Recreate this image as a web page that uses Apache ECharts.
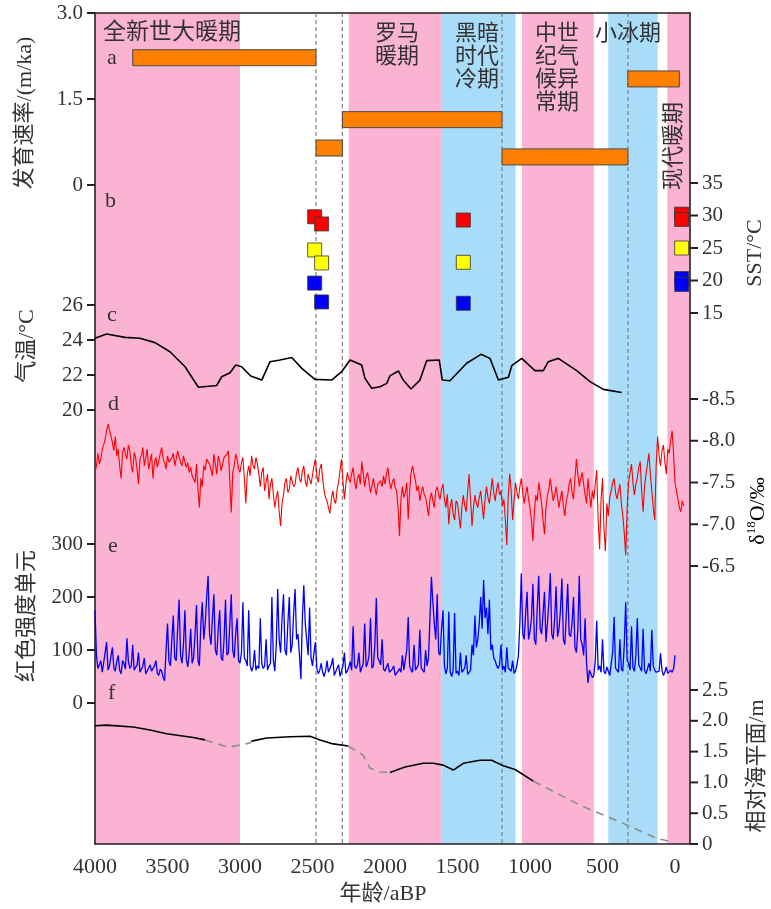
<!DOCTYPE html>
<html>
<head>
<meta charset="utf-8">
<script src="https://cdn.jsdelivr.net/npm/echarts@6/dist/echarts.min.js"></script>
<style>
  html, body { margin: 0; padding: 0; background: #fff; }
  #chart { width: 771px; height: 909px; }
</style>
</head>
<body>
<div id="chart"></div>
<script>
// 横轴（年龄 aBP）
const xTicks = [4000, 3500, 3000, 2500, 2000, 1500, 1000, 500, 0];
const X_MIN = -103.4;

// 各分图纵轴刻度
const rateTicks = [0, 1.5, 3];
const sstTicks = [15, 20, 25, 30, 35];
const tempTicks = [20, 22, 24, 26];
const d18OTicks = [-8.5, -8, -7.5, -7, -6.5];
const rednessTicks = [0, 100, 200, 300];
const seaTicks = [0, 0.5, 1, 1.5, 2, 2.5];

// 气候期背景色带 [起, 止, 类型]
const periodBands = [
  [4000, 3000, 'warm'], [2250, 1610, 'warm'], [1610, 1100, 'cold'],
  [1055, 560, 'warm'], [460, 120, 'cold'], [53, X_MIN, 'warm'],
];
// 虚线分界
const boundaryAges = [2476, 2294, 1193, 325];

// a 发育速率 [起, 止, 速率]
const growthRate = [
  [3740, 2476, 2.22], [2476, 2294, 0.645], [2294, 1193, 1.14],
  [1193, 325, 0.49], [325, -30, 1.85],
];

// b SST
const sstRed = [[2485, 29.8], [2437, 28.7], [1460, 29.3], [-46, 30.2], [-46, 29.4]];
const sstYellow = [[2485, 24.7], [2437, 22.7], [1460, 22.8], [-46, 25.0]];
const sstBlue = [[2485, 19.6], [2437, 16.7], [1460, 16.5], [-46, 20.3], [-46, 19.4]];

// c 气温
const airTemp = [
  [4000, 24.1], [3920, 24.34], [3793, 24.15], [3690, 24.1], [3586, 23.85], [3483, 23.33],
  [3379, 22.47], [3287, 21.3], [3161, 21.4], [3126, 21.9], [3069, 22.13], [3030, 22.57],
  [2989, 22.47], [2926, 21.94], [2850, 21.71], [2793, 22.76], [2724, 22.86], [2643, 23.0],
  [2574, 22.38], [2483, 21.75], [2368, 21.71], [2299, 22.19], [2241, 22.86], [2161, 22.57],
  [2138, 21.81], [2092, 21.24], [2034, 21.33], [1988, 21.52], [1966, 21.95], [1908, 22.23],
  [1874, 21.71], [1821, 21.2], [1759, 21.71], [1713, 22.82], [1626, 22.86], [1605, 21.71],
  [1552, 21.67], [1437, 22.67], [1338, 23.18], [1276, 22.95], [1218, 21.71], [1149, 21.87],
  [1126, 22.53], [1057, 22.95], [966, 22.25], [908, 22.25], [874, 22.76], [805, 22.95],
  [678, 22.25], [586, 21.62], [494, 21.18], [368, 21.0],
];

// d / e 的取样年龄（每行 200 年）
const sampleAges = [
  4000, 3990, 3980, 3970, 3960, 3950, 3940, 3930, 3920, 3910, 3900, 3890, 3880, 3870, 3860, 3850, 3840, 3830, 3820, 3810,
  3800, 3790, 3780, 3770, 3760, 3750, 3740, 3730, 3720, 3710, 3700, 3690, 3680, 3670, 3660, 3650, 3640, 3630, 3620, 3610,
  3600, 3590, 3580, 3570, 3560, 3550, 3540, 3530, 3520, 3510, 3500, 3490, 3480, 3470, 3460, 3450, 3440, 3430, 3420, 3410,
  3400, 3390, 3380, 3370, 3360, 3350, 3340, 3330, 3320, 3310, 3300, 3290, 3280, 3270, 3260, 3250, 3240, 3230, 3220, 3210,
  3200, 3190, 3180, 3170, 3160, 3150, 3140, 3130, 3120, 3110, 3100, 3090, 3080, 3070, 3060, 3050, 3040, 3030, 3020, 3010,
  3000, 2990, 2980, 2970, 2960, 2950, 2940, 2930, 2920, 2910, 2900, 2890, 2880, 2870, 2860, 2850, 2840, 2830, 2820, 2810,
  2800, 2790, 2780, 2770, 2760, 2750, 2740, 2730, 2720, 2710, 2700, 2690, 2680, 2670, 2660, 2650, 2640, 2630, 2620, 2610,
  2600, 2590, 2580, 2570, 2560, 2550, 2540, 2530, 2520, 2510, 2500, 2490, 2480, 2470, 2460, 2450, 2440, 2430, 2420, 2410,
  2400, 2390, 2380, 2370, 2360, 2350, 2340, 2330, 2320, 2310, 2300, 2290, 2280, 2270, 2260, 2250, 2240, 2230, 2220, 2210,
  2200, 2190, 2180, 2170, 2160, 2150, 2140, 2130, 2120, 2110, 2100, 2090, 2080, 2070, 2060, 2050, 2040, 2030, 2020, 2010,
  2000, 1990, 1980, 1970, 1960, 1950, 1940, 1930, 1920, 1910, 1900, 1890, 1880, 1870, 1860, 1850, 1840, 1830, 1820, 1810,
  1800, 1790, 1780, 1770, 1760, 1750, 1740, 1730, 1720, 1710, 1700, 1690, 1680, 1670, 1660, 1650, 1640, 1630, 1620, 1610,
  1600, 1590, 1580, 1570, 1560, 1550, 1540, 1530, 1520, 1510, 1500, 1490, 1480, 1470, 1460, 1450, 1440, 1430, 1420, 1410,
  1400, 1390, 1380, 1370, 1360, 1350, 1340, 1330, 1320, 1310, 1300, 1290, 1280, 1270, 1260, 1250, 1240, 1230, 1220, 1210,
  1200, 1190, 1180, 1170, 1160, 1150, 1140, 1130, 1120, 1110, 1100, 1090, 1080, 1070, 1060, 1050, 1040, 1030, 1020, 1010,
  1000, 990, 980, 970, 960, 950, 940, 930, 920, 910, 900, 890, 880, 870, 860, 850, 840, 830, 820, 810,
  800, 790, 780, 770, 760, 750, 740, 730, 720, 710, 700, 690, 680, 670, 660, 650, 640, 630, 620, 610,
  600, 590, 580, 570, 560, 550, 540, 530, 520, 510, 500, 490, 480, 470, 460, 450, 440, 430, 420, 410,
  400, 390, 380, 370, 360, 350, 340, 330, 320, 310, 300, 290, 280, 270, 260, 250, 240, 230, 220, 210,
  200, 190, 180, 170, 160, 150, 140, 130, 120, 110, 100, 90, 80, 70, 60, 50, 40, 30, 20, 10,
  0, -10, -20, -30, -40, -50, -60,
];

// d δ18O (‰)
const d18O = [
  -7.62, -7.70, -7.85, -7.72, -7.78, -7.90, -7.95, -8.02, -8.12, -8.20, -8.18, -8.06, -7.98, -7.88, -8.05, -7.82, -7.90, -7.70, -7.55, -7.86,
  -7.92, -7.84, -7.78, -7.95, -7.88, -7.70, -7.62, -7.86, -7.80, -7.66, -7.48, -7.78, -7.82, -7.92, -7.70, -7.80, -7.90, -7.66, -7.75, -7.84,
  -7.55, -7.74, -7.80, -7.68, -7.70, -7.85, -7.92, -7.78, -7.74, -7.66, -7.82, -7.74, -7.72, -7.80, -7.85, -7.70, -7.78, -7.88, -7.86, -7.74,
  -7.70, -7.82, -7.80, -7.68, -7.74, -7.62, -7.68, -7.58, -7.60, -7.50, -7.72, -7.42, -7.20, -7.55, -7.45, -7.70, -7.65, -7.78, -7.80, -7.72,
  -7.70, -7.58, -7.84, -7.72, -7.60, -7.82, -7.75, -7.64, -7.66, -7.80, -7.78, -7.84, -7.88, -7.50, -7.14, -7.62, -7.70, -7.84, -7.78, -7.66,
  -7.62, -7.74, -7.80, -7.55, -7.25, -7.60, -7.70, -7.58, -7.82, -7.70, -7.66, -7.80, -7.72, -7.60, -7.45, -7.62, -7.68, -7.40, -7.50, -7.60,
  -7.30, -7.48, -7.55, -7.36, -7.20, -7.32, -7.40, -7.15, -6.98, -7.25, -7.35, -7.50, -7.55, -7.38, -7.42, -7.58, -7.60, -7.45, -7.48, -7.62,
  -7.68, -7.55, -7.50, -7.64, -7.70, -7.52, -7.45, -7.60, -7.62, -7.48, -7.50, -7.70, -7.78, -7.58, -7.50, -7.66, -7.72, -7.55, -7.40, -7.32,
  -7.28, -7.20, -7.13, -7.30, -7.40, -7.28, -7.25, -7.42, -7.50, -7.65, -7.78, -7.52, -7.30, -7.48, -7.62, -7.55, -7.50, -7.60, -7.68, -7.52,
  -7.42, -7.55, -7.60, -7.48, -7.75, -7.60, -7.45, -7.58, -7.62, -7.50, -7.38, -7.46, -7.55, -7.44, -7.35, -7.48, -7.50, -7.52, -7.45, -7.58,
  -7.48, -7.60, -7.68, -7.52, -7.42, -7.50, -7.55, -7.44, -7.40, -7.20, -6.86, -7.30, -7.45, -7.32, -7.38, -7.50, -7.06, -7.40, -7.62, -7.70,
  -7.60, -7.52, -7.40, -7.46, -7.28, -7.38, -7.45, -7.36, -7.32, -7.22, -7.10, -7.30, -7.38, -7.28, -7.20, -7.40, -7.45, -7.35, -7.30, -7.42,
  -7.48, -7.30, -7.20, -7.36, -7.00, -7.22, -7.30, -7.12, -7.05, -7.28, -7.25, -7.10, -6.95, -7.20, -7.35, -7.22, -7.15, -7.40, -7.60, -7.30,
  -6.98, -7.20, -7.35, -7.25, -7.20, -7.32, -7.40, -7.22, -7.06, -7.30, -7.45, -7.32, -7.25, -7.40, -7.55, -7.38, -7.28, -7.42, -7.50, -7.35,
  -7.40, -7.22, -7.30, -7.05, -6.75, -7.35, -7.60, -7.40, -7.05, -7.28, -7.50, -7.38, -7.30, -7.45, -7.55, -7.38, -7.25, -7.36, -7.45, -7.30,
  -7.20, -7.05, -6.80, -7.15, -7.35, -7.28, -7.50, -7.38, -7.25, -7.05, -6.88, -7.20, -7.35, -7.42, -7.55, -7.40, -7.28, -7.35, -7.45, -7.32,
  -7.20, -7.32, -7.40, -7.22, -7.10, -7.28, -7.35, -7.48, -7.55, -7.38, -7.30, -7.55, -7.78, -7.60, -7.45, -7.55, -7.62, -7.48, -7.35, -7.25,
  -7.55, -7.35, -7.20, -7.40, -7.30, -7.48, -7.65, -7.05, -6.70, -7.30, -7.55, -6.95, -6.68, -7.25, -7.10, -7.32, -7.40, -7.50, -7.55, -7.38,
  -7.30, -7.40, -7.48, -7.25, -7.10, -6.90, -6.63, -7.20, -7.50, -7.62, -7.72, -7.50, -7.35, -7.48, -7.55, -7.68, -7.75, -7.40, -7.15, -7.45,
  -7.60, -7.72, -7.85, -7.60, -7.40, -7.20, -7.05, -7.70, -8.05, -7.82, -7.70, -7.88, -7.95, -7.75, -7.60, -7.90, -7.85, -8.00, -8.12, -7.85,
  -7.50, -7.40, -7.30, -7.20, -7.15, -7.28, -7.22,
];

// e 红色强度单元
const redness = [
  175, 90, 65, 72, 80, 58, 60, 95, 115, 62, 70, 88, 105, 66, 60, 78, 90, 62, 55, 80,
  75, 64, 122, 80, 65, 70, 110, 62, 60, 72, 95, 58, 58, 70, 85, 55, 55, 66, 72, 60,
  62, 70, 80, 56, 52, 64, 60, 48, 42, 100, 150, 78, 70, 120, 165, 85, 80, 140, 195, 90,
  75, 110, 175, 82, 68, 95, 140, 75, 85, 130, 185, 80, 70, 150, 190, 120, 150, 200, 240, 130,
  110, 160, 205, 100, 90, 140, 175, 85, 80, 120, 195, 90, 95, 150, 205, 100, 85, 130, 160, 80,
  75, 95, 190, 85, 80, 70, 175, 72, 60, 68, 100, 62, 70, 65, 160, 75, 65, 70, 120, 62,
  70, 75, 200, 80, 60, 110, 215, 120, 95, 160, 205, 100, 90, 150, 200, 95, 110, 170, 215, 120,
  130, 90, 45, 160, 222, 150, 120, 90, 180, 85, 70, 95, 115, 65, 55, 62, 75, 58, 50, 60,
  80, 58, 60, 72, 85, 52, 55, 66, 72, 50, 48, 70, 95, 56, 60, 68, 78, 62, 145, 70,
  65, 72, 95, 58, 60, 75, 150, 68, 75, 90, 160, 66, 70, 110, 198, 85, 80, 72, 120, 64,
  60, 68, 75, 58, 55, 64, 70, 52, 50, 60, 65, 58, 90, 62, 60, 100, 162, 70, 62, 58,
  110, 62, 60, 72, 138, 66, 65, 58, 100, 70, 85, 160, 238, 190, 150, 120, 205, 95, 90, 140,
  175, 70, 55, 65, 172, 58, 50, 62, 170, 56, 60, 52, 95, 58, 60, 66, 90, 54, 55, 62,
  110, 90, 165, 105, 120, 150, 200, 140, 232, 160, 180, 130, 195, 100, 110, 85, 80, 70, 65, 72,
  110, 62, 70, 58, 105, 66, 65, 60, 80, 56, 60, 72, 90, 150, 245, 130, 120, 170, 210, 120,
  135, 160, 225, 120, 110, 180, 240, 140, 130, 170, 210, 115, 150, 190, 245, 130, 120, 160, 220, 125,
  140, 175, 235, 120, 110, 165, 225, 130, 125, 150, 200, 105, 95, 140, 240, 120, 110, 90, 160, 75,
  38, 62, 60, 48, 52, 80, 155, 62, 70, 58, 120, 60, 55, 68, 70, 52, 50, 95, 162, 66,
  65, 58, 120, 64, 60, 110, 190, 80, 75, 62, 145, 66, 60, 90, 160, 72, 70, 60, 140, 62,
  55, 64, 75, 60, 138, 70, 62, 58, 55, 60, 94, 62, 52, 58, 68, 56, 55, 62, 58, 64,
  90, null, null, null, null, null, null,
];

// f 相对海平面（实线段 / 虚线段）
const seaLevelSolid = [
  [[4000, 1.92], [3920, 1.93], [3736, 1.90], [3621, 1.85], [3506, 1.79], [3322, 1.73], [3241, 1.69]],
  [[2920, 1.67], [2816, 1.72], [2655, 1.74], [2517, 1.75], [2448, 1.69], [2368, 1.63], [2253, 1.59]],
  [[1966, 1.16], [1862, 1.25], [1736, 1.31], [1667, 1.31], [1598, 1.28], [1529, 1.20], [1460, 1.31],
   [1345, 1.36], [1264, 1.36], [1195, 1.28], [1103, 1.21], [977, 1.02]],
];
const seaLevelDashed = [
  [[3241, 1.69], [3080, 1.57], [2931, 1.64], [2920, 1.67]],
  [[2253, 1.59], [2150, 1.44], [2103, 1.23], [2034, 1.17], [1966, 1.16]],
  [[977, 1.02], [655, 0.63], [333, 0.31], [126, 0.09], [12, 0.03]],
];

const FONT = "'Liberation Serif','Noto Sans CJK SC',serif";
const TXT = '#333';
const BAND_COLOR = { warm: '#FAB3D3', cold: '#A9DCF8' };

const L = 95, R = 771 - 690;
// 各分图网格（上边界, 高度）
const panels = [
  { top: 13, height: 831 },   // 0 外框 + 背景
  { top: 13, height: 172 },   // 1 a
  { top: 183, height: 130 },  // 2 b
  { top: 305, height: 105 },  // 3 c
  { top: 399, height: 167 },  // 4 d
  { top: 544, height: 159 },  // 5 e
  { top: 690, height: 154 },  // 6 f
];

const fmt1 = (v) => (v === 0 ? '0' : v.toFixed(1));

// 纵轴配置（刻度短线另行绘制）
const axisDefs = [
  { grid: 1, side: 'left', min: 0, max: 3, step: 1.5, ticks: rateTicks, fmt: fmt1 },
  { grid: 2, side: 'right', min: 15, max: 35, step: 5, ticks: sstTicks },
  { grid: 3, side: 'left', min: 20, max: 26, step: 2, ticks: tempTicks },
  { grid: 4, side: 'right', min: -8.5, max: -6.5, step: 0.5, ticks: d18OTicks, fmt: (v) => v.toFixed(1), inverse: true },
  { grid: 5, side: 'left', min: 0, max: 300, step: 100, ticks: rednessTicks },
  { grid: 6, side: 'right', min: 0, max: 2.5, step: 0.5, ticks: seaTicks, fmt: fmt1 },
];

function panelY(d) {
  return {
    gridIndex: d.grid, type: 'value', position: d.side, min: d.min, max: d.max,
    interval: d.step, inverse: !!d.inverse,
    axisLine: { show: false, onZero: false },
    axisTick: { show: false },
    axisLabel: { margin: 12, fontSize: 21, color: TXT, fontFamily: FONT, formatter: d.fmt },
    splitLine: { show: false },
  };
}

function txt(text, x, y, size) {
  return {
    type: 'text', x, y, z: 100,
    style: {
      text, fill: TXT, font: size + 'px ' + FONT,
      align: 'left', textAlign: 'left',
      verticalAlign: 'middle', textVerticalAlign: 'middle',
    },
  };
}

function vtxt(text, x, y, size) {
  return {
    type: 'text', x, y, rotation: Math.PI / 2, z: 100,
    style: {
      text, fill: TXT, font: size + 'px ' + FONT,
      align: 'center', textAlign: 'center',
      verticalAlign: 'middle', textVerticalAlign: 'middle',
    },
  };
}

function multi(text, x, top, size) {
  return {
    type: 'text', x, y: top, z: 100,
    style: {
      text, fill: TXT, font: size + 'px ' + FONT, lineHeight: 23,
      align: 'left', textAlign: 'left',
      verticalAlign: 'top', textVerticalAlign: 'top',
    },
  };
}

const chart = echarts.init(document.getElementById('chart'));

const grids = panels.map((p) => ({ left: L, right: R, top: p.top, height: p.height }));

const xAxes = panels.map((p, i) => ({
  gridIndex: i, type: 'value', min: X_MIN, max: 4000, inverse: true, show: i === 0,
  position: 'bottom',
  axisLine: { onZero: false, lineStyle: { color: '#222', width: 1.6 } },
  axisTick: { show: false },
  axisLabel: {
    customValues: xTicks, margin: 12, fontSize: 22, color: TXT, fontFamily: FONT,
    formatter: (v) => String(v),
  },
  splitLine: { show: false },
}));
// 顶边框
xAxes.push({
  gridIndex: 0, type: 'value', min: X_MIN, max: 4000, inverse: true, position: 'top',
  axisLine: { onZero: false, lineStyle: { color: '#222', width: 1.6 } },
  axisTick: { show: false }, axisLabel: { show: false }, splitLine: { show: false },
});

const frameY = (pos) => ({
  gridIndex: 0, type: 'value', min: 0, max: 1, position: pos,
  axisLine: { show: true, onZero: false, lineStyle: { color: '#222', width: 1.6 } },
  axisTick: { show: false }, axisLabel: { show: false }, splitLine: { show: false },
});

const yAxes = [frameY('left'), frameY('right')].concat(axisDefs.map(panelY));

const series = [
  {
    type: 'custom', xAxisIndex: 0, yAxisIndex: 0, z: 0, silent: true,
    data: periodBands,
    renderItem: (params, api) => {
      const p1 = api.coord([api.value(0), 1]);
      const p2 = api.coord([api.value(1), 0]);
      const kind = periodBands[params.dataIndex][2];
      return {
        type: 'rect',
        shape: { x: p1[0], y: p1[1], width: p2[0] - p1[0], height: p2[1] - p1[1] },
        style: { fill: BAND_COLOR[kind] },
      };
    },
  },
  {
    type: 'custom', xAxisIndex: 0, yAxisIndex: 0, z: 1, silent: true,
    data: boundaryAges.map((a) => [a]),
    renderItem: (params, api) => {
      const p1 = api.coord([api.value(0), 1]);
      const p2 = api.coord([api.value(0), 0]);
      return {
        type: 'line',
        shape: { x1: p1[0], y1: p1[1], x2: p2[0], y2: p2[1] },
        style: { stroke: '#7f7f7f', lineWidth: 1.2, lineDash: [4, 3] },
      };
    },
  },
  {
    type: 'custom', xAxisIndex: 1, yAxisIndex: 2, z: 3,
    data: growthRate,
    renderItem: (params, api) => {
      const p1 = api.coord([api.value(0), api.value(2)]);
      const p2 = api.coord([api.value(1), api.value(2)]);
      return {
        type: 'rect',
        shape: { x: p1[0], y: p1[1] - 8, width: p2[0] - p1[0], height: 16 },
        style: { fill: '#FF8000', stroke: '#4a4a4a', lineWidth: 1 },
      };
    },
  },
];

[[sstRed, '#FF0000'], [sstYellow, '#FFFF00'], [sstBlue, '#0000FF']].forEach(([d, c]) => {
  series.push({
    type: 'scatter', xAxisIndex: 2, yAxisIndex: 3, z: 4, data: d,
    symbol: 'rect', symbolSize: 14,
    itemStyle: { color: c, borderColor: '#333', borderWidth: 0.8, opacity: 1 },
  });
});

series.push({
  type: 'line', xAxisIndex: 3, yAxisIndex: 4, z: 4, data: airTemp,
  symbol: 'none', lineStyle: { color: '#000', width: 1.6 },
});
series.push({
  type: 'line', xAxisIndex: 4, yAxisIndex: 5, z: 4,
  data: sampleAges.map((a, i) => [a, d18O[i]]),
  symbol: 'none', lineStyle: { color: '#FF0000', width: 1.1 },
});
series.push({
  type: 'line', xAxisIndex: 5, yAxisIndex: 6, z: 4,
  data: sampleAges.map((a, i) => [a, redness[i]]).filter((p) => p[1] !== null),
  symbol: 'none', lineStyle: { color: '#0000FF', width: 1.3 },
});
seaLevelSolid.forEach((seg) => {
  series.push({
    type: 'line', xAxisIndex: 6, yAxisIndex: 7, z: 4, data: seg,
    symbol: 'none', lineStyle: { color: '#000', width: 1.6 },
  });
});
seaLevelDashed.forEach((seg) => {
  series.push({
    type: 'line', xAxisIndex: 6, yAxisIndex: 7, z: 4, data: seg,
    symbol: 'none', lineStyle: { color: '#8c8c8c', width: 1.6, type: [8, 6] },
  });
});

// 纵轴刻度短线：按各轴的 min/max 与网格位置换算
const tickEls = [];
axisDefs.forEach((d) => {
  const p = panels[d.grid];
  d.ticks.forEach((v) => {
    const f = d.inverse ? (v - d.min) / (d.max - d.min) : (d.max - v) / (d.max - d.min);
    const y = p.top + f * p.height;
    const x = d.side === 'left' ? L - 8 : 771 - R;
    tickEls.push({
      type: 'rect', z: 200, silent: true,
      shape: { x, y: y - 1, width: 8, height: 2 },
      style: { fill: '#222' },
    });
  });
});

const graphic = [
  // 时期名称
  txt('全新世大暖期', 103, 33, 23),
  multi('罗马\n暖期', 375, 23, 22),
  multi('黑暗\n时代\n冷期', 455, 23, 22),
  multi('中世\n纪气\n候异\n常期', 535, 23, 22),
  txt('小冰期', 595, 34, 22),
  vtxt('现代暖期', 674, 146, 22),
  // 分图字母
  txt('a', 107, 58, 22),
  txt('b', 105, 201, 22),
  txt('c', 107, 315, 22),
  txt('d', 108, 404, 22),
  txt('e', 108, 546, 22),
  txt('f', 108, 693, 22),
  // 轴标题
  vtxt('发育速率/(m/ka)', 25, 113, 22),
  vtxt('气温/°C', 27, 346, 22),
  vtxt('红色强度单元', 27, 616, 22),
  vtxt('SST/°C', 755, 253, 22),
  {
    type: 'text', x: 758, y: 511, rotation: Math.PI / 2, z: 100,
    style: {
      text: '{d|δ}{s|18}{d|O/‰}',
      align: 'center', textAlign: 'center',
      verticalAlign: 'middle', textVerticalAlign: 'middle',
      rich: {
        d: { fontSize: 22, fontFamily: FONT, color: TXT, lineHeight: 26 },
        s: { fontSize: 13, fontFamily: FONT, color: TXT, lineHeight: 14, verticalAlign: 'top' },
      },
    },
  },
  vtxt('相对海平面/m', 757, 766, 22),
  {
    type: 'text', x: 383, y: 894, z: 100,
    style: {
      text: '年龄/aBP', fill: TXT, font: '22px ' + FONT,
      align: 'center', textAlign: 'center',
      verticalAlign: 'middle', textVerticalAlign: 'middle',
    },
  },
].concat(tickEls);

chart.setOption({
  animation: false,
  backgroundColor: '#fff',
  grid: grids,
  xAxis: xAxes,
  yAxis: yAxes,
  series,
  graphic,
});
</script>
</body>
</html>
